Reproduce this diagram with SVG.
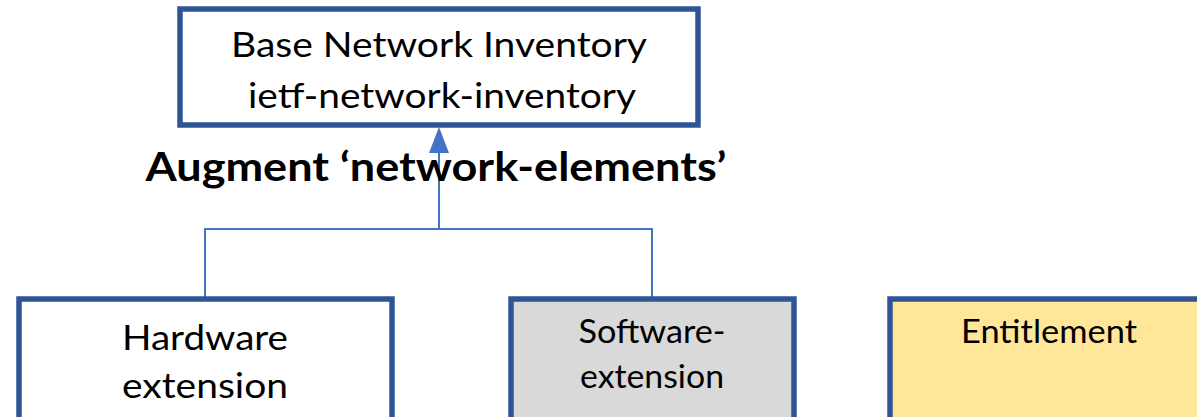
<svg xmlns="http://www.w3.org/2000/svg" width="1197" height="417" viewBox="0 0 1197 417">
<defs>
<style>
.box{stroke:#2F5597;stroke-width:5.5}
.t{font-family:Lato,"Open Sans",sans-serif;fill:#000}
.c{fill:none;stroke:#4472C4;stroke-width:2}
</style>
</defs>
<rect width="1197" height="417" fill="#fff"/>
<g id="connectors">
<path class="c" d="M205,298 V229 H652 V298"/>
<path class="c" d="M439,229 V150"/>
<path d="M429,153 L439,127 L449,153 Z" fill="#4472C4"/>
</g>
<g id="base">
<rect class="box" x="180" y="9" width="518" height="116" fill="#fff"/>
<text class="t" x="439" y="57" font-size="35" text-anchor="middle" textLength="416" lengthAdjust="spacingAndGlyphs">Base Network Inventory</text>
<text class="t" x="442" y="108" font-size="35" text-anchor="middle" textLength="388" lengthAdjust="spacingAndGlyphs">ietf-network-inventory</text>
</g>
<g id="label">
<text class="t" x="436" y="181" font-size="41" font-weight="bold" text-anchor="middle" textLength="581" lengthAdjust="spacingAndGlyphs">Augment ‘network-elements’</text>
</g>
<g id="hardware">
<rect class="box" x="19" y="299" width="373" height="130" fill="#fff"/>
<text class="t" x="205" y="350" font-size="35" text-anchor="middle" textLength="166" lengthAdjust="spacingAndGlyphs">Hardware</text>
<text class="t" x="205" y="398" font-size="35" text-anchor="middle" textLength="166" lengthAdjust="spacingAndGlyphs">extension</text>
</g>
<g id="software">
<rect class="box" x="511" y="299" width="283" height="130" fill="#D9D9D9"/>
<text class="t" x="652" y="343" font-size="32" text-anchor="middle" textLength="147" lengthAdjust="spacingAndGlyphs">Software-</text>
<text class="t" x="652" y="388" font-size="32" text-anchor="middle" textLength="144" lengthAdjust="spacingAndGlyphs">extension</text>
</g>
<g id="entitlement">
<rect class="box" x="890" y="299" width="330" height="130" fill="#FFE699"/>
<text class="t" x="1049" y="343" font-size="32" text-anchor="middle" textLength="176" lengthAdjust="spacingAndGlyphs">Entitlement</text>
</g>
</svg>
